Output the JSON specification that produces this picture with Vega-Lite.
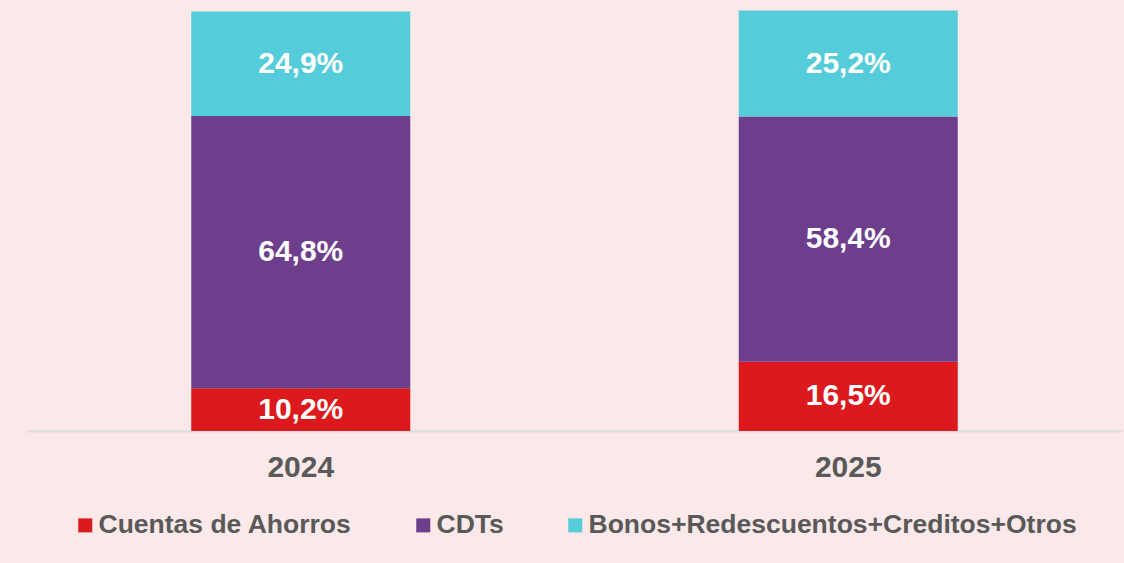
{
  "$schema": "https://vega.github.io/schema/vega-lite/v6.json",
  "width": 1095,
  "height": 420,
  "padding": {"left": 27, "top": 10, "right": 2, "bottom": 24},
  "background": "#fbe8e8",
  "config": {
    "font": "Liberation Sans",
    "view": {"stroke": null},
    "legend": {"layout": {"bottom": {"anchor": "middle"}}},
    "locale": {"number": {"decimal": ",", "thousands": ".", "grouping": [3], "currency": ["", ""]}}
  },
  "data": {
    "values": [
      {"anio": "2024", "tipo": "Cuentas de Ahorros", "orden": 1, "valor": 0.102},
      {"anio": "2024", "tipo": "CDTs", "orden": 2, "valor": 0.648},
      {"anio": "2024", "tipo": "Bonos+Redescuentos+Creditos+Otros", "orden": 3, "valor": 0.249},
      {"anio": "2025", "tipo": "Cuentas de Ahorros", "orden": 1, "valor": 0.165},
      {"anio": "2025", "tipo": "CDTs", "orden": 2, "valor": 0.584},
      {"anio": "2025", "tipo": "Bonos+Redescuentos+Creditos+Otros", "orden": 3, "valor": 0.252}
    ]
  },
  "encoding": {
    "x": {
      "field": "anio", "type": "nominal",
      "scale": {"paddingInner": 0.6, "paddingOuter": 0.3},
      "axis": {
        "title": null, "labelAngle": 0, "ticks": false,
        "domainColor": "#dcdcdc", "domainWidth": 2,
        "labelFontSize": 30, "labelFontWeight": "bold", "labelColor": "#595959",
        "labelPadding": 21
      }
    },
    "y": {
      "field": "valor", "type": "quantitative", "stack": "zero",
      "scale": {"domain": [0, 1], "nice": false},
      "axis": null
    },
    "order": {"field": "orden", "type": "quantitative"}
  },
  "layer": [
    {
      "mark": {"type": "bar"},
      "encoding": {
        "color": {
          "field": "tipo", "type": "nominal",
          "scale": {
            "domain": ["Cuentas de Ahorros", "CDTs", "Bonos+Redescuentos+Creditos+Otros"],
            "range": ["#dc1a1d", "#6d3e8c", "#55ccd9"]
          },
          "legend": {
            "title": null, "orient": "bottom", "direction": "horizontal",
            "symbolType": "square", "symbolSize": 196, "symbolStrokeWidth": 0,
            "labelFontSize": 26.5, "labelFontWeight": "bold", "labelColor": "#595959",
            "labelOffset": 0, "columnPadding": 58, "labelLimit": 1000, "offset": 30
          }
        }
      }
    },
    {
      "mark": {"type": "text", "color": "white", "fontSize": 30, "fontWeight": "bold", "baseline": "middle"},
      "encoding": {
        "y": {"field": "valor", "type": "quantitative", "stack": "zero", "bandPosition": 0.5},
        "text": {"field": "valor", "type": "quantitative", "format": ".1%"}
      }
    }
  ]
}
